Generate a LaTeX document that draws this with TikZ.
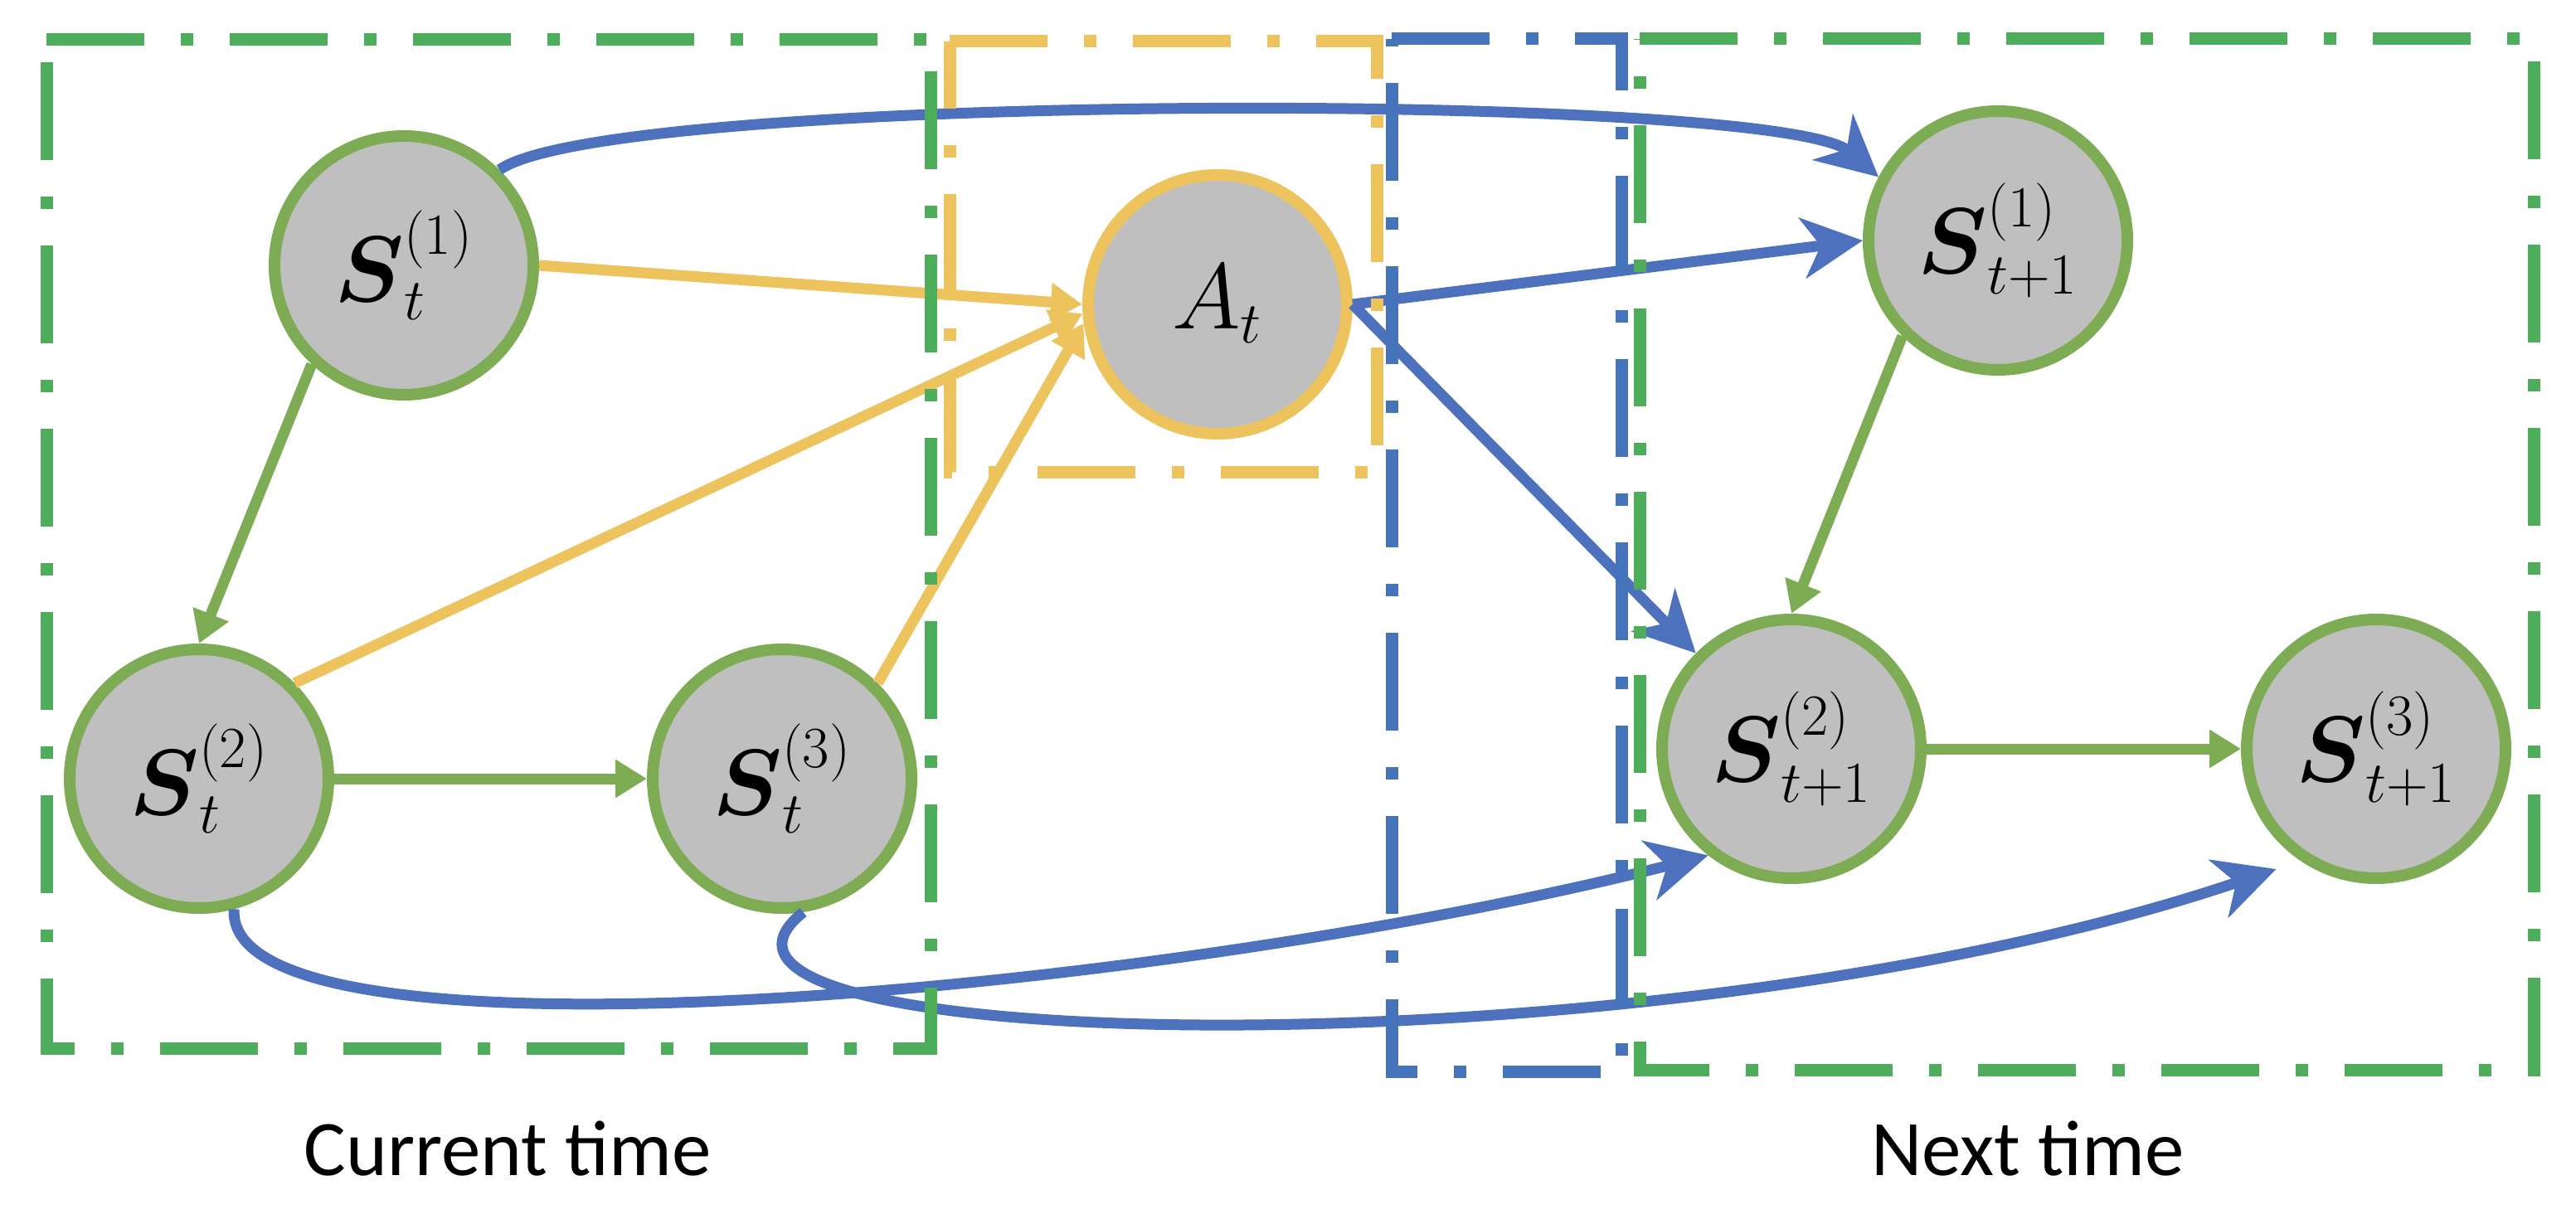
\documentclass[tikz,border=0pt]{standalone}
\usepackage{fix-cm}
\usepackage{amsmath,amssymb}
\usepackage{fontspec}
\newfontfamily\labelfont{Carlito}
\usepackage{tikz}
\usetikzlibrary{arrows.meta,positioning}
\DeclareMathSizes{32}{32}{20}{14}
\definecolor{stgreen}{HTML}{7EAC55}
\definecolor{boxgreen}{HTML}{4EAD5B}
\definecolor{actyellow}{HTML}{EDC35E}
\definecolor{trblue}{HTML}{4E71BE}
\definecolor{boxblue}{HTML}{4674BA}
\definecolor{nodegray}{HTML}{BFBFBF}

\begin{document}
\begin{tikzpicture}[x=1cm,y=1cm,
    statenode/.style={circle,draw=stgreen,fill=nodegray,line width=0.14cm,minimum size=3.12cm,inner sep=0pt,font=\fontsize{32}{38}\selectfont},
    actnode/.style={statenode,draw=actyellow},
    garrow/.style={draw=stgreen,line width=0.13cm,-{Triangle[length=0.38cm,width=0.44cm]}},
    yarrow/.style={garrow,draw=actyellow},
    barrow/.style={draw=trblue,line width=0.13cm,-{Stealth[length=0.73cm,width=0.73cm,inset=0.22cm]}},
    timebox/.style={line width=0.15cm,dash pattern=on 1.18cm off 0.44cm on 0.15cm off 0.44cm}]
  \useasboundingbox (0,0) rectangle (31.06,-14.76);

  \node[statenode] (s1t) at (4.87,-3.20) {$\boldsymbol{S}_t^{(1)}$};
  \node[statenode] (s2t) at (2.40,-9.39) {$\boldsymbol{S}_t^{(2)}$};
  \node[statenode] (s3t) at (9.43,-9.39) {$\boldsymbol{S}_t^{(3)}$};
  \node[actnode] (at) at (14.68,-3.67) {$A_t$};
  \node[statenode] (s1n) at (24.09,-2.90) {$\boldsymbol{S}_{t+1}^{(1)}$};
  \node[statenode] (s2n) at (21.60,-9.03) {$\boldsymbol{S}_{t+1}^{(2)}$};
  \node[statenode] (s3n) at (28.65,-9.03) {$\boldsymbol{S}_{t+1}^{(3)}$};

  \draw[garrow] (s1t.227) -- (s2t.north);
  \draw[garrow] (s2t.east) -- (s3t.west);
  \draw[garrow] (s1n.225) -- (s2n.north);
  \draw[garrow] (s2n.east) -- (s3n.west);

  \draw[yarrow] (s1t.east) -- (at.180);
  \draw[yarrow] (s2t.45) -- (at.184);
  \draw[yarrow] (s3t.45) -- (at.188);

  \draw[barrow] (at.east) -- (s1n.west);
  \draw[barrow] (at.east) -- (s2n.135);
  \draw[barrow] (s1t.45) .. controls +(1.35,0.95) and +(-1.19,1.04) .. (s1n.152);
  \draw[barrow] (s2t.-75) .. controls +(-0.12,-2.04) and +(-6.61,-1.68) .. (s2n.232);
  \draw[barrow,shorten >=0.31cm] (s3t.-81) .. controls +(-2.2,-1.75) and +(-7.74,-2.62) .. (s3n.236);

  \draw[timebox,draw=boxgreen] (0.56,-0.475) -- (11.22,-0.475) -- (11.22,-12.64) -- (0.56,-12.64) -- cycle;
  \draw[timebox,draw=actyellow] (11.45,-0.50) -- (16.60,-0.50) -- (16.60,-5.70) -- (11.45,-5.70) -- cycle;
  \draw[timebox,draw=boxblue] (16.78,-0.47) -- (19.55,-0.47) -- (19.55,-12.92) -- (16.78,-12.92) -- cycle;
  \draw[timebox,draw=boxgreen] (19.77,-0.47) -- (30.55,-0.47) -- (30.55,-12.90) -- (19.77,-12.90) -- cycle;

  \node[font=\labelfont\fontsize{27}{32}\selectfont,anchor=base] (curlabel) at (6.12,-14.17) {Current time};
  \node[font=\labelfont\fontsize{27}{32}\selectfont,anchor=base] (nextlabel) at (24.45,-14.17) {Next time};
\end{tikzpicture}
\end{document}
